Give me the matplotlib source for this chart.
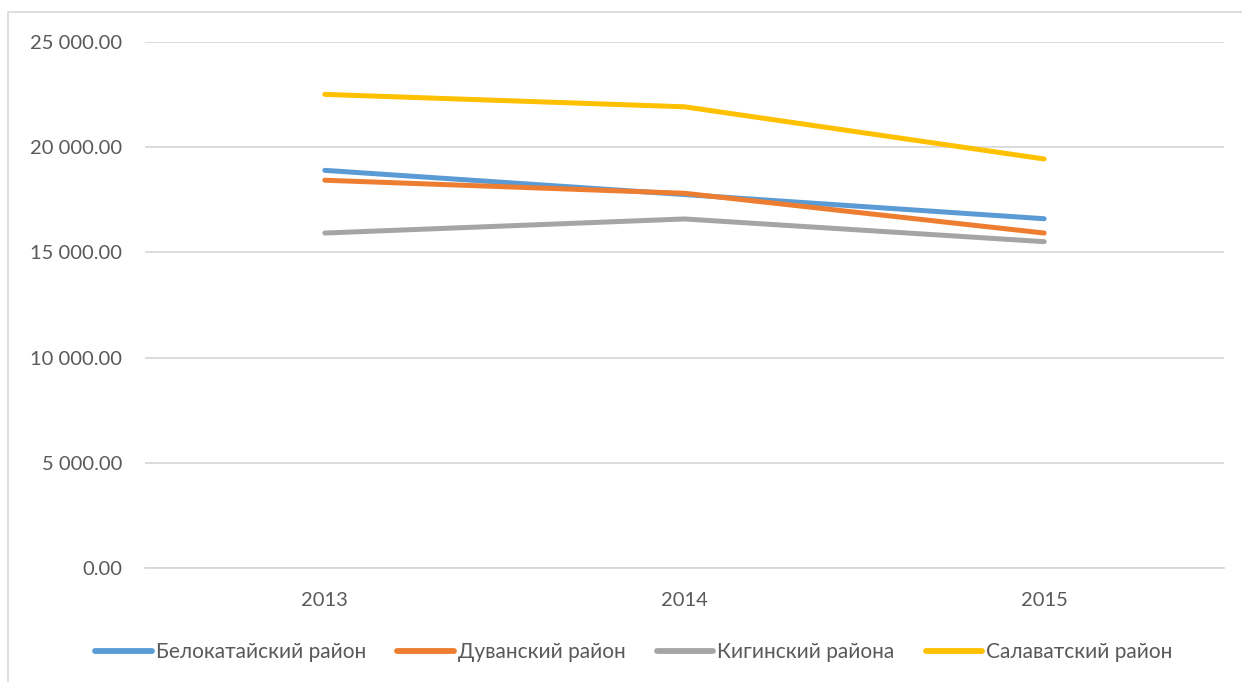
import matplotlib
matplotlib.use("Agg")
import matplotlib.pyplot as plt
from matplotlib.patches import Rectangle
from matplotlib.ticker import FuncFormatter

years = ["2013", "2014", "2015"]
series_names = ["Белокатайский район", "Дуванский район", "Кигинский района", "Салаватский район"]
belokatay = [18900, 17750, 16600]
duvan = [18430, 17810, 15920]
kigi = [15920, 16590, 15510]
salavat = [22510, 21920, 19440]
colors = ["#5B9BD5", "#ED7D31", "#A5A5A5", "#FFC000"]

plt.rcParams['font.family'] = ['Lato', 'DejaVu Sans']

fig = plt.figure(figsize=(12.42, 6.82), dpi=100)
W, H = 1242, 682
ax = fig.add_axes([145 / W, 1 - 568 / H, (1224 - 145) / W, (568 - 42) / H])

x = list(range(len(years)))
for vals, name, c in zip([belokatay, duvan, kigi, salavat], series_names, colors):
    ax.plot(x, vals, color=c, lw=3.6, label=name, solid_capstyle='round', solid_joinstyle='round')

ax.set_xlim(-0.5, 2.5)
ax.set_ylim(0, 25000)
ax.set_yticks([0, 5000, 10000, 15000, 20000, 25000])
ax.yaxis.set_major_formatter(FuncFormatter(lambda v, p: f"{v:,.2f}".replace(",", " ")))
ax.set_xticks(x)
ax.set_xticklabels(years)
ax.grid(axis='y', color='#D9D9D9', lw=1.3)
ax.set_axisbelow(True)
for s in ['top', 'right', 'left']:
    ax.spines[s].set_visible(False)
ax.spines['bottom'].set_color('#D9D9D9')
ax.spines['bottom'].set_linewidth(1.3)
ax.tick_params(axis='both', length=0, labelsize=14.5, labelcolor='#595959')
ax.tick_params(axis='y', pad=16.5)
ax.tick_params(axis='x', pad=17)

leg = fig.legend(loc='center', bbox_to_anchor=(634 / W, 1 - 652 / H), ncol=4, frameon=False,
                 fontsize=15, handlelength=2.7, handletextpad=0.2, columnspacing=1.5,
                 labelcolor='#595959')
for h in leg.get_lines():
    h.set_linewidth(4.2)

fig.patches.append(Rectangle((8 / W, -0.05), 1.1, 1 - 12 / H + 0.05, transform=fig.transFigure,
                             fill=False, edgecolor='#D9D9D9', lw=1.2))

fig.savefig("out.png", dpi=100, facecolor='white')
